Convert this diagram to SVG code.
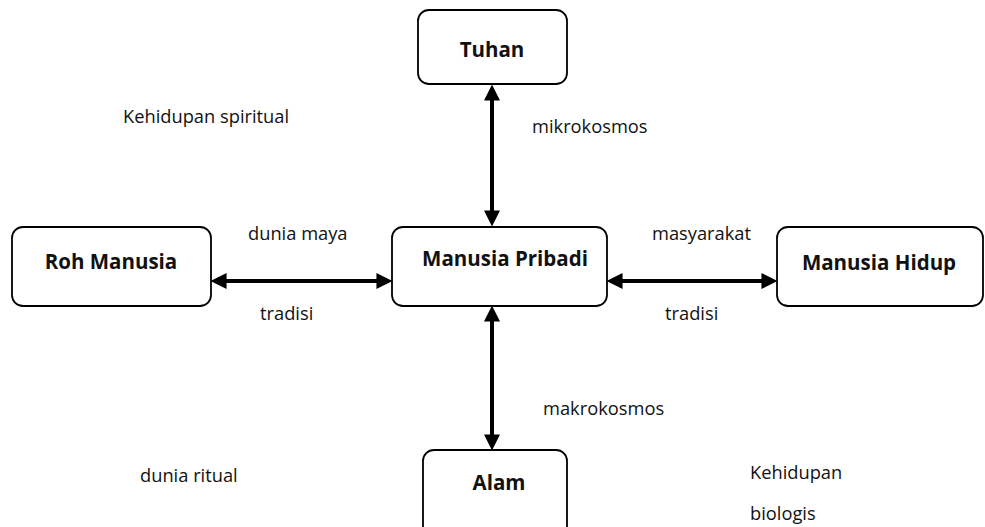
<svg xmlns="http://www.w3.org/2000/svg" width="985" height="527" viewBox="0 0 985 527">
<style>
.box{fill:#fff;stroke:#000;stroke-width:1.8}
.bt{font-family:"Open Sans","Liberation Sans",sans-serif;font-weight:bold;font-size:20.5px;fill:#111;text-anchor:middle}
.lt{font-family:"Open Sans","Liberation Sans",sans-serif;font-size:18.3px;fill:#111}
.conn{stroke:#000;stroke-width:4;fill:none;marker-start:url(#ah);marker-end:url(#ah)}
</style>
<defs>
<marker id="ah" markerUnits="userSpaceOnUse" markerWidth="16" markerHeight="16" refX="4" refY="7" orient="auto-start-reverse" viewBox="0 0 14 14">
<path d="M0,0 L14,7 L0,14 z" fill="#000"/>
</marker>
</defs>
<rect width="985" height="527" fill="#fff"/>
<g id="connectors">
<line class="conn" x1="492" y1="96" x2="492" y2="215"/>
<line class="conn" x1="222" y1="281" x2="381" y2="281"/>
<line class="conn" x1="618" y1="281" x2="766" y2="281"/>
<line class="conn" x1="492" y1="317" x2="492" y2="439"/>
</g>
<g id="tuhan">
<rect class="box" x="418" y="10" width="149" height="74" rx="11"/>
<text class="bt" x="492" y="57">Tuhan</text>
</g>
<g id="roh-manusia">
<rect class="box" x="12" y="227" width="199" height="79" rx="11"/>
<text class="bt" x="111" y="269">Roh Manusia</text>
</g>
<g id="manusia-pribadi">
<rect class="box" x="392" y="227" width="215" height="79" rx="11"/>
<text class="bt" x="505" y="266">Manusia Pribadi</text>
</g>
<g id="manusia-hidup">
<rect class="box" x="777" y="227" width="206" height="79" rx="11"/>
<text class="bt" x="879" y="270">Manusia Hidup</text>
</g>
<g id="alam">
<rect class="box" x="423" y="450" width="144" height="100" rx="11"/>
<text class="bt" x="499" y="490">Alam</text>
</g>
<g id="labels">
<text class="lt" x="123" y="123">Kehidupan spiritual</text>
<text class="lt" x="532" y="133">mikrokosmos</text>
<text class="lt" x="248" y="240">dunia maya</text>
<text class="lt" x="652" y="240">masyarakat</text>
<text class="lt" x="260" y="320">tradisi</text>
<text class="lt" x="665" y="320">tradisi</text>
<text class="lt" x="543" y="415">makrokosmos</text>
<text class="lt" x="140" y="482">dunia ritual</text>
<text class="lt" x="750" y="479">Kehidupan</text>
<text class="lt" x="750" y="520">biologis</text>
</g>
</svg>
